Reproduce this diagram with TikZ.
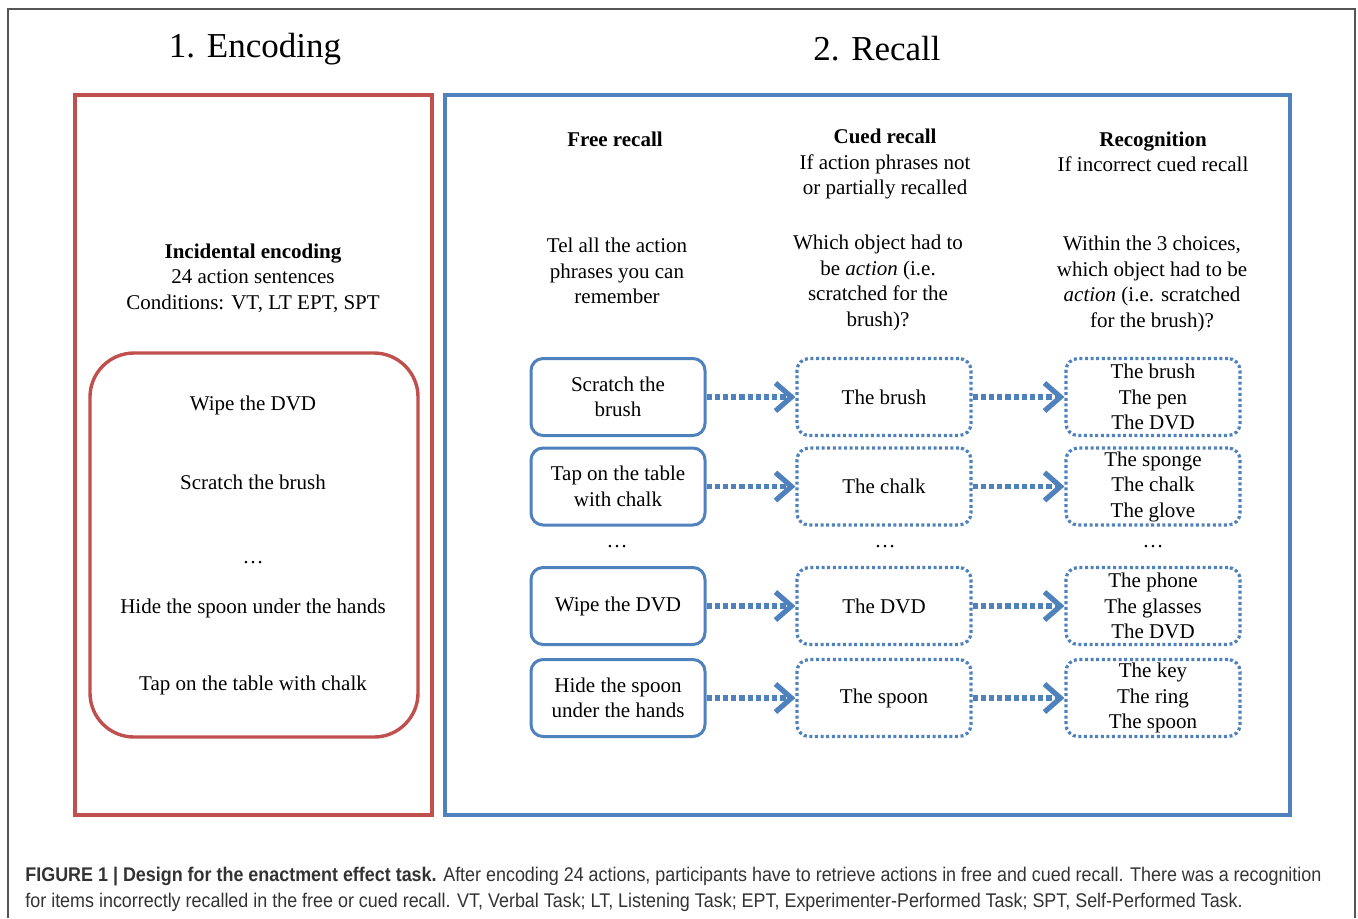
\documentclass[tikz,border=0pt]{standalone}
\usepackage{fontspec}
\setmainfont{Liberation Serif}
\newfontfamily\capfont[FakeStretch=0.905]{Liberation Sans}
\usetikzlibrary{arrows.meta}
\definecolor{encred}{HTML}{C0504D}
\definecolor{recblue}{HTML}{4F81BD}
\definecolor{framegray}{HTML}{555555}
\definecolor{capgray}{HTML}{333333}

\begin{document}
\begin{tikzpicture}[x=0.5pt, y=-0.5pt,
	txt/.style={align=center, font=\fontsize{10.5}{12.75}\selectfont, inner sep=0pt},
	title/.style={font=\fontsize{17.5}{21}\selectfont, inner sep=0pt},
	freebox/.style={txt, draw=recblue, line width=1.5pt, rounded corners=6pt, minimum width=87pt, minimum height=38.5pt},
	dotbox/.style={txt, draw=recblue, line width=1.6pt, dash pattern=on 1.5pt off 1.3pt, rounded corners=6pt, minimum width=87pt, minimum height=38.5pt},
	link/.style={draw=recblue, line width=2.6pt, dash pattern=on 2.6pt off 1.5pt, -{Straight Barb[length=8pt,width=14pt,line width=2.6pt]}},
	caption/.style={anchor=base west, inner sep=0pt, text=capgray, font=\capfont\fontsize{9.9}{11}\selectfont}]
	\useasboundingbox (0,0) rectangle (1358,918);
	\draw[framegray, line width=0.8pt] (8,918) -- (8,9) -- (1355,9) -- (1355,918);
	% panels
	\draw[encred, line width=1.7pt] (75,95) rectangle (432,815);
	\draw[recblue, line width=1.7pt] (445,95) rectangle (1290,815);
	\draw[encred, line width=1.7pt, rounded corners=22pt] (90,353) rectangle (418,737);
	\node[title](ENC) at (255,49){1. Encoding};
	\node[title](REC) at (877,49){2. Recall};
	% encoding
	\node[txt](INC) at (253,278){\textbf{Incidental encoding}\\24 action sentences\\Conditions: VT, LT EPT, SPT};
	\node[txt](E1) at (253,405){Wipe the DVD};
	\node[txt](E2) at (253,482){Scratch the brush};
	\node[txt](E3) at (253,563){\dots};
	\node[txt](E4) at (253,608){Hide the spoon under the hands};
	\node[txt](E5) at (253,685){Tap on the table with chalk};
	% recall headers
	\node[txt](FH) at (615,139){\textbf{Free recall}};
	\node[txt](CH) at (885,164){\textbf{Cued recall}\\If action phrases not\\or partially recalled};
	\node[txt](RH) at (1153,152){\textbf{Recognition}\\If incorrect cued recall};
	\node[txt](FQ) at (617,271){Tel all the action\\phrases you can\\remember};
	\node[txt](CQ) at (878,283){Which object had to\\be \textit{action} (i.e.\\scratched for the\\brush)?};
	\node[txt](RQ) at (1152,284){Within the 3 choices,\\which object had to be\\\textit{action} (i.e. scratched\\for the brush)?};
	% rows
	\node[freebox](F1) at (618,397){Scratch the\\brush};
	\node[dotbox](C1) at (884,397){The brush};
	\node[dotbox](R1) at (1153,397){The brush\\The pen\\The DVD};
	\node[freebox](F2) at (618,486.5){Tap on the table\\with chalk};
	\node[dotbox](C2) at (884,486.5){The chalk};
	\node[dotbox](R2) at (1153,486.5){The sponge\\The chalk\\The glove};
	\node[txt](FD) at (617,547){\dots};
	\node[txt](CD) at (885,547){\dots};
	\node[txt](RD) at (1153,547){\dots};
	\node[freebox](F3) at (618,606){Wipe the DVD};
	\node[dotbox](C3) at (884,606){The DVD};
	\node[dotbox](R3) at (1153,606){The phone\\The glasses\\The DVD};
	\node[freebox](F4) at (618,698){Hide the spoon\\under the hands};
	\node[dotbox](C4) at (884,698){The spoon};
	\node[dotbox](R4) at (1153,698){The key\\The ring\\The spoon};
	\draw [link] (F1) -- (C1);
	\draw [link] (C1) -- (R1);
	\draw [link] (F2) -- (C2);
	\draw [link] (C2) -- (R2);
	\draw [link] (F3) -- (C3);
	\draw [link] (C3) -- (R3);
	\draw [link] (F4) -- (C4);
	\draw [link] (C4) -- (R4);
	% caption
	\node[caption](CAP1) at (25,881){\textbf{FIGURE 1 | Design for the enactment effect task.} After encoding 24 actions, participants have to retrieve actions in free and cued recall. There was a recognition};
	\node[caption](CAP2) at (25,907){for items incorrectly recalled in the free or cued recall. VT, Verbal Task; LT, Listening Task; EPT, Experimenter-Performed Task; SPT, Self-Performed Task.};
\end{tikzpicture}
\end{document}
